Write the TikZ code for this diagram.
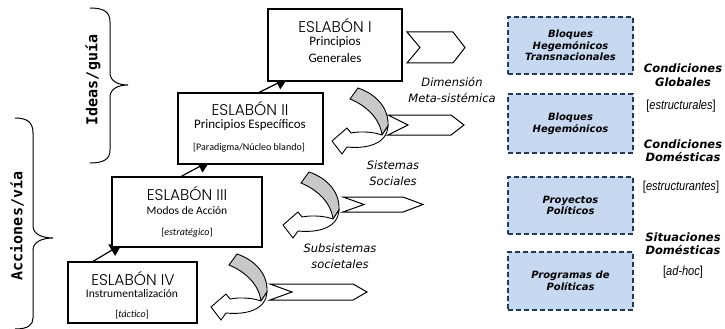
\documentclass[tikz,border=0pt]{standalone}
\usepackage{fontspec}
\setmainfont{Carlito}
\IfFontExistsTF{Poppins Light}{\newfontfamily\gothic{Poppins Light}}{\newfontfamily\gothic{Poppins}}
\newfontfamily\verd{DejaVu Sans}
\newfontfamily\monof{DejaVu Sans Mono}
\newfontfamily\narrowf{Liberation Sans}
\usetikzlibrary{arrows.meta,calc}
\definecolor{boxblue}{HTML}{C6D9F1}
\definecolor{dashblue}{HTML}{1F3A60}
\definecolor{bandgray}{HTML}{C8C8C8}
\newcommand{\fs}[2]{\fontsize{#1}{#2}\selectfont}
\newcommand{\nar}[1]{\scalebox{0.85}[1]{\narrowf\fs{13}{15}#1}}
\tikzset{
  ebox/.style={draw, line width=1.2pt, fill=white, inner sep=0pt},
  etitle/.style={font=\gothic\fs{15.5}{17}, inner sep=0pt},
  esub/.style={font=\fs{13}{15}, inner sep=0pt},
  esubs/.style={font=\fs{11.5}{13}, inner sep=0pt},
  enote/.style={font=\fs{10}{12}, inner sep=0pt},
  link/.style={line width=1.2pt, -{Triangle[length=12pt,width=13pt]}},
  dbox/.style={draw=dashblue, fill=boxblue, line width=1.5pt, dash pattern=on 5pt off 3pt, inner sep=0pt,
    align=center, font=\verd\bfseries\itshape\fs{10}{11.7}},
  cond/.style={align=center, inner sep=0pt, font=\verd\bfseries\itshape\fs{11.5}{13.5}},
  dimlab/.style={align=center, inner sep=0pt, font=\verd\itshape\fs{11.5}{15.5}},
  chev/.style={draw, line width=1pt, fill=white},
  curvarr/.pic={
    \filldraw[fill=bandgray, line width=0.9pt] (27,0) .. controls (45,6) and (58,20) .. (57,38) -- (51,47) .. controls (49,31) and (36,18) .. (19,11) -- cycle;
    \filldraw[fill=white, line width=0.9pt] (51,47) .. controls (43,44) and (30,43) .. (20,45) -- (16,40) -- (1,53) -- (11,66) -- (16,59) .. controls (36,61) and (56,56) .. (57,38) -- cycle;
  }
}
\begin{document}
\begin{tikzpicture}[x=1pt,y=-1pt]
\useasboundingbox (0,0) rectangle (725,329);

% braces and side labels
\draw[line width=1pt] (90,8) .. controls (104,8) and (110,12) .. (110,22) -- (110,73) .. controls (110,81) and (118,85) .. (128,85) .. controls (118,85) and (110,89) .. (110,97) -- (110,150) .. controls (110,159) and (104,163) .. (90,163);
\draw[line width=1pt] (15,118) .. controls (28,118) and (33,123) .. (33,133) -- (33,226) .. controls (33,234) and (42,238) .. (53,238) .. controls (42,238) and (33,242) .. (33,250) -- (33,318) .. controls (33,325) and (28,329) .. (15,329);
\node[rotate=90, inner sep=0pt, font=\monof\bfseries\fs{15}{17}] (ideas) at (93,80) {Ideas/guía};
\node[rotate=90, inner sep=0pt, font=\monof\bfseries\fs{15}{17}] (acc) at (17,226) {Acciones/vía};

% connector coordinates
\coordinate (s2) at (258,93);
\coordinate (e1) at (288,78);
\coordinate (s3) at (180,177);
\coordinate (e2) at (210,161);
\coordinate (s4) at (92,262);
\coordinate (e3) at (122,244);
\draw[link] (s2) -- (e1);
\draw[link] (s3) -- (e2);
\draw[link] (s4) -- (e3);

% eslabon boxes
\node[ebox, minimum width=134pt, minimum height=72pt] (b1) at (335,45) {};
\node[ebox, minimum width=145pt, minimum height=71pt] (b2) at (250.5,128.5) {};
\node[ebox, minimum width=150pt, minimum height=70pt] (b3) at (187,212) {};
\node[ebox, minimum width=129pt, minimum height=61pt] (b4) at (132.5,292.5) {};

\node[etitle] (b1a) at (335,25.5) {ESLABÓN I};
\node[esub] (b1b) at (335,42.5) {Principios};
\node[esub] (b1c) at (335,58.5) {Generales};

\node[etitle] (b2a) at (250,108.5) {ESLABÓN II};
\node[esub] (b2b) at (250,125.5) {Principios Específicos};
\node[enote] (b2c) at (249,148) {[Paradigma/Núcleo blando]};

\node[etitle] (b3a) at (187,193.5) {ESLABÓN III};
\node[esubs] (b3b) at (187,210.5) {Modos de Acción};
\node[enote] (b3c) at (187,233) {[\textit{estratégico}]};

\node[etitle] (b4a) at (133,278.5) {ESLABÓN IV};
\node[esubs] (b4b) at (132,293.5) {Instrumentalización};
\node[enote] (b4c) at (132,315) {[\textit{táctico}]};

% curved arrows
\pic (ca1) at (331,88) {curvarr};
\pic (ca2) at (282,172) {curvarr};
\pic (ca3) at (210,254) {curvarr};

% chevrons
\draw[chev] (407,32) -- (453,32) -- (465,47.5) -- (453,63) -- (407,63) -- (420,47.5) -- cycle;
\draw[chev] (388,115) -- (451,115) -- (464,125) -- (451,135) -- (388,135) -- (408,125) -- cycle;
\draw[chev] (343,197) -- (403,197) -- (423,204.5) -- (403,212) -- (343,212) -- (364,204.5) -- cycle;
\draw[chev] (270,284) -- (353,284) -- (367,292) -- (353,300) -- (270,300) -- (292,292) -- cycle;

% middle labels
\node[dimlab] (dim) at (452,90) {Dimensión\\Meta-sistémica};
\node[dimlab] (sis) at (393,173) {Sistemas\\Sociales};
\node[dimlab] (sub) at (340,256) {Subsistemas\\societales};

% dashed boxes
\node[dbox, minimum width=125pt, minimum height=57pt] (r1) at (570.5,45.5) {Bloques\\Hegemónicos\\Transnacionales};
\node[dbox, minimum width=125pt, minimum height=59pt] (r2) at (570.5,123.5) {Bloques\\Hegemónicos};
\node[dbox, minimum width=125pt, minimum height=57pt] (r3) at (570.5,205.5) {Proyectos\\Políticos};
\node[dbox, minimum width=125pt, minimum height=58pt] (r4) at (570.5,281) {Programas de\\Políticas};

% right labels
\node[cond] (c1) at (683,75) {Condiciones\\Globales};
\node[inner sep=0pt] (c1n) at (681,106) {\nar{[\textit{estructurales}]}};
\node[cond] (c2) at (683,150.5) {Condiciones\\Domésticas};
\node[inner sep=0pt] (c2n) at (681,187) {\nar{[\textit{estructurantes}]}};
\node[cond] (c3) at (683,243.5) {Situaciones\\Domésticas};
\node[inner sep=0pt] (c3n) at (683,272) {\nar{[\textit{ad-hoc}]}};
\end{tikzpicture}
\end{document}
